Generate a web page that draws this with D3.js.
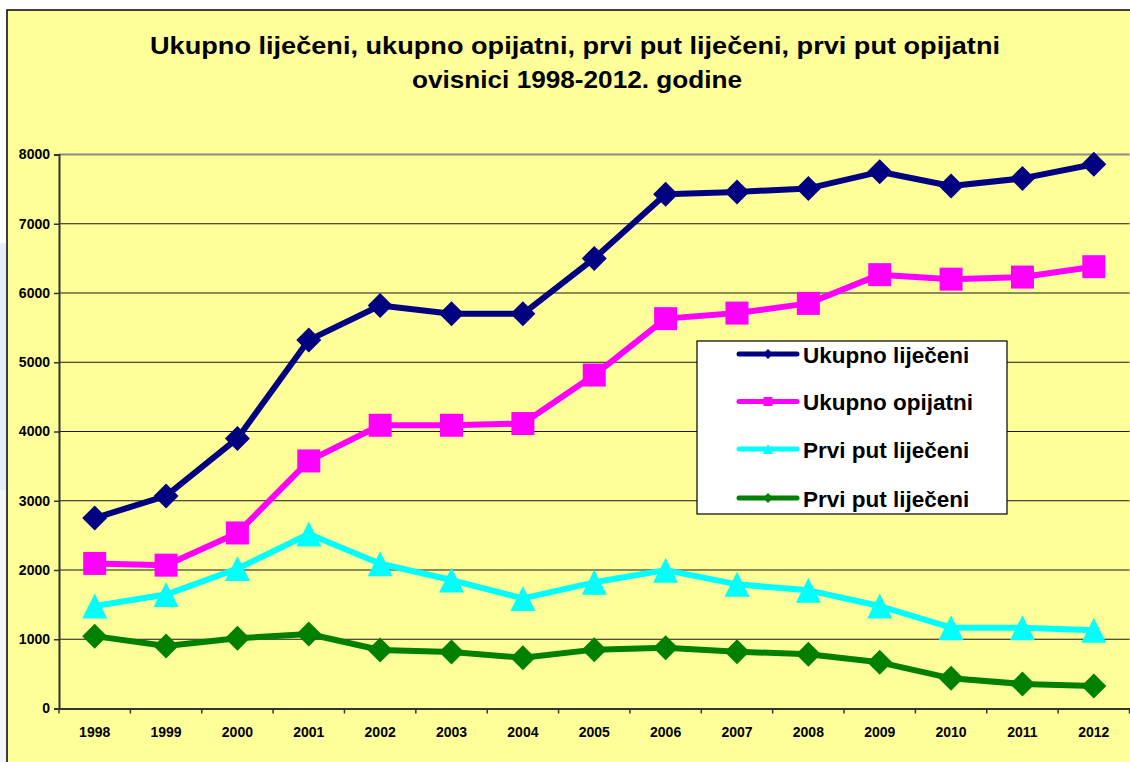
<!DOCTYPE html>
<html>
<head>
<meta charset="utf-8">
<script src="https://cdn.jsdelivr.net/npm/d3@7"></script>
<style>
  html, body { margin: 0; padding: 0; background: #ffffff; }
  svg { display: block; }
  text { font-family: "Liberation Sans", Arial, sans-serif; font-weight: bold; }
</style>
</head>
<body>
<svg id="chart" width="1130" height="762"></svg>
<script>
// ---- data ----
const years = ["1998","1999","2000","2001","2002","2003","2004","2005","2006","2007","2008","2009","2010","2011","2012"];
const ukupnoLijeceni = [2750, 3070, 3900, 5320, 5820, 5700, 5700, 6500, 7425, 7460, 7510, 7750, 7545, 7655, 7860];
const ukupnoOpijatni = [2095, 2070, 2535, 3575, 4090, 4090, 4115, 4815, 5630, 5710, 5850, 6265, 6200, 6230, 6380];
const prviPutLijeceni = [1480, 1645, 2020, 2520, 2090, 1855, 1590, 1822, 1998, 1793, 1706, 1480, 1167, 1167, 1130];
const prviPutOpijatni = [1045, 902, 1013, 1076, 845, 815, 734, 850, 878, 820, 783, 667, 436, 354, 325];
const yTicks = [0, 1000, 2000, 3000, 4000, 5000, 6000, 7000, 8000];
const legendLabels = ["Ukupno liječeni", "Ukupno opijatni", "Prvi put liječeni", "Prvi put liječeni"];
const titleLines = ["Ukupno liječeni, ukupno opijatni, prvi put liječeni, prvi put opijatni", "ovisnici 1998-2012. godine"];

const seriesColors = ["#000080", "#FF00FF", "#00FFFF", "#008000"];
const seriesShapes = ["diamond", "square", "triangle", "diamond"];
const series = [ukupnoLijeceni, ukupnoOpijatni, prviPutLijeceni, prviPutOpijatni].map((v, i) => ({
  values: v, color: seriesColors[i], shape: seriesShapes[i], label: legendLabels[i]
}));

const svg = d3.select("#chart");
const W = 1130, H = 762;

// outer background bits
svg.append("rect").attr("x", 0).attr("y", 0).attr("width", W).attr("height", H).attr("fill", "#ffffff");
svg.append("rect").attr("x", 0).attr("y", 243).attr("width", 7).attr("height", 247).attr("fill", "#e4eef9");
svg.append("rect").attr("x", 0).attr("y", 490).attr("width", 7).attr("height", 272).attr("fill", "#f3f7fc");

// chart area
svg.append("rect").attr("x", 7).attr("y", 10).attr("width", W).attr("height", H)
  .attr("fill", "#FFFF99").attr("stroke", "#000").attr("stroke-width", 1.5);

// title
const titleCx = 575;
svg.append("text").attr("x", titleCx).attr("y", 54).attr("text-anchor", "middle")
  .attr("font-size", 24).attr("textLength", 850).attr("lengthAdjust", "spacingAndGlyphs")
  .attr("fill", "#000").text(titleLines[0]);
svg.append("text").attr("x", titleCx + 2).attr("y", 88).attr("text-anchor", "middle")
  .attr("font-size", 24).attr("textLength", 330).attr("lengthAdjust", "spacingAndGlyphs")
  .attr("fill", "#000").text(titleLines[1]);

// scales
const plotL = 59, plotR = 1129.5, plotT = 154.5, plotB = 708.5;
const x = d3.scaleBand().domain(years).range([plotL, plotR]).padding(0);
const y = d3.scaleLinear().domain([0, 8000]).range([plotB, plotT]);
const cx = d => x(d) + x.bandwidth() / 2;

// gridlines
svg.append("g").selectAll("line").data(yTicks.filter(t => t > 0)).join("line")
  .attr("x1", plotL).attr("x2", plotR)
  .attr("y1", d => y(d)).attr("y2", d => y(d))
  .attr("stroke", d => d === 8000 ? "#8a8a8a" : "#1a1a1a")
  .attr("stroke-width", d => d === 8000 ? 2 : 1.2);

// y axis
const yAxis = d3.axisLeft(y).tickValues(yTicks).tickSize(5).tickPadding(6).tickFormat(d3.format("d"));
const gy = svg.append("g").attr("transform", `translate(${plotL},0)`).call(yAxis);
gy.select(".domain").attr("stroke", "#333").attr("stroke-width", 2);
gy.selectAll(".tick line").attr("stroke", "#333").attr("stroke-width", 1.5);
gy.selectAll(".tick text").attr("font-size", 14).attr("font-family", "Liberation Sans, Arial, sans-serif")
  .attr("font-weight", "bold").attr("fill", "#000").attr("x", -9);

// x axis
const xAxis = d3.axisBottom(x).tickSize(0).tickPadding(0);
const gx = svg.append("g").attr("transform", `translate(0,${plotB})`).call(xAxis);
gx.select(".domain").attr("stroke", "#333").attr("stroke-width", 2);
gx.selectAll(".tick text").attr("font-size", 14).attr("font-family", "Liberation Sans, Arial, sans-serif")
  .attr("font-weight", "bold").attr("fill", "#000").attr("dy", 0).attr("y", 28);
// boundary tick marks
const bounds = years.map(d => x(d)).concat([x(years[years.length - 1]) + x.bandwidth()]);
svg.append("g").selectAll("line").data(bounds).join("line")
  .attr("x1", d => d).attr("x2", d => d).attr("y1", plotB).attr("y2", plotB + 5)
  .attr("stroke", "#333").attr("stroke-width", 1.5);

// marker shape generator
function shapePath(shape, s) {
  if (shape === "diamond") return `M0,${-s}L${s},0L0,${s}L${-s},0Z`;
  if (shape === "square") return `M${-s},${-s}H${s}V${s}H${-s}Z`;
  if (shape === "triangle") return `M0,${-s}L${s},${s}L${-s},${s}Z`;
  return "";
}
const markerSize = { diamond: 12.5, square: 11.5, triangle: 12.5 };

const line = d3.line().x((d, i) => cx(years[i])).y(d => y(d));

series.forEach(s => {
  const g = svg.append("g");
  g.append("path").attr("d", line(s.values)).attr("fill", "none")
    .attr("stroke", s.color).attr("stroke-width", 6).attr("stroke-linejoin", "round");
  g.selectAll("path.m").data(s.values).join("path").attr("class", "m")
    .attr("transform", (d, i) => `translate(${cx(years[i])},${y(d)})`)
    .attr("d", shapePath(s.shape, markerSize[s.shape]))
    .attr("fill", s.color);
});

// legend
const lg = svg.append("g");
lg.append("rect").attr("x", 697).attr("y", 341).attr("width", 310).attr("height", 173)
  .attr("fill", "#fff").attr("stroke", "#000").attr("stroke-width", 1.2);
const rowY = [354, 401.5, 449, 498];
series.forEach((s, i) => {
  const yy = rowY[i];
  lg.append("line").attr("x1", 739).attr("x2", 797).attr("y1", yy).attr("y2", yy)
    .attr("stroke", s.color).attr("stroke-width", 5).attr("stroke-linecap", "round");
  lg.append("path").attr("transform", `translate(768,${yy})`)
    .attr("d", shapePath(s.shape, s.shape === "square" ? 4.5 : 5)).attr("fill", s.color);
  lg.append("text").attr("x", 803).attr("y", yy + 8.5).attr("font-size", 22.5)
    .attr("fill", "#000").text(s.label);
});
</script>
</body>
</html>
